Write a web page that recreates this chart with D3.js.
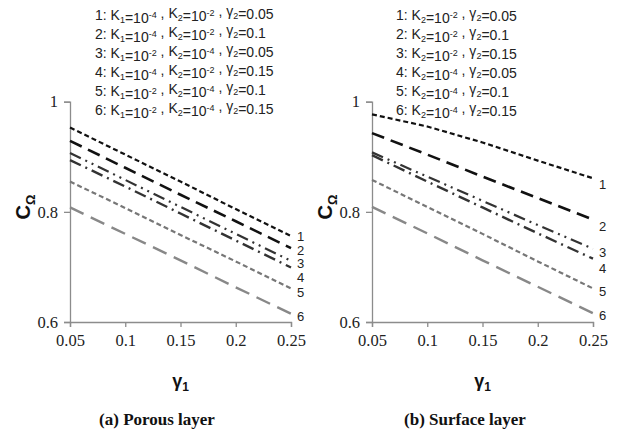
<!DOCTYPE html>
<html><head><meta charset="utf-8">
<script src="https://cdn.jsdelivr.net/npm/d3@7"></script>
<style>body{margin:0;background:#fff}</style>
</head><body>
<svg id="c" width="619" height="432"></svg>
<script>
const xTicks = [0.05, 0.1, 0.15, 0.2, 0.25];
const yTicks = [0.6, 0.8, 1];
const gamma1 = [0.05, 0.1, 0.15, 0.2, 0.25];
// Porous layer series (C_Omega vs gamma1)
const porous1 = [0.953, 0.904, 0.855, 0.805, 0.756];
const porous2 = [0.929, 0.880, 0.831, 0.783, 0.734];
const porous3 = [0.907, 0.858, 0.809, 0.760, 0.711];
const porous4 = [0.894, 0.846, 0.797, 0.748, 0.699];
const porous5 = [0.855, 0.807, 0.758, 0.710, 0.661];
const porous6 = [0.808, 0.760, 0.712, 0.663, 0.615];
// Surface layer series
const surface1 = [0.977, 0.955, 0.926, 0.893, 0.861];
const surface2 = [0.943, 0.904, 0.864, 0.825, 0.786];
const surface3 = [0.908, 0.864, 0.820, 0.776, 0.733];
const surface4 = [0.903, 0.855, 0.808, 0.761, 0.715];
const surface5 = [0.858, 0.809, 0.760, 0.710, 0.661];
const surface6 = [0.809, 0.761, 0.712, 0.664, 0.616];
// Legend parameters
const porousK1 = ["-4", "-4", "-2", "-4", "-2", "-2"];
const porousK2 = ["-2", "-2", "-4", "-2", "-4", "-4"];
const porousG2 = ["0.05", "0.1", "0.05", "0.15", "0.1", "0.15"];
const surfaceK2 = ["-2", "-2", "-2", "-4", "-4", "-4"];
const surfaceG2 = ["0.05", "0.1", "0.15", "0.05", "0.1", "0.15"];
const seriesLabels = ["1", "2", "3", "4", "5", "6"];
const panelTitles = ["(a) Porous layer", "(b) Surface layer"];

const styles = [
  {stroke: "#111", w: 2.2, dash: "5,3"},
  {stroke: "#111", w: 2.6, dash: "13,7"},
  {stroke: "#333", w: 2.2, dash: "12,5,2,5,2,5"},
  {stroke: "#333", w: 2.4, dash: "12,5,2,5"},
  {stroke: "#777", w: 2.2, dash: "5,3"},
  {stroke: "#888", w: 2.4, dash: "15,8"}
];

const svg = d3.select("#c");
const y = d3.scaleLinear().domain([0.6, 1]).range([322, 101.7]);

const panels = [
  {x0: 70, x1: 291, series: [porous1, porous2, porous3, porous4, porous5, porous6],
   labelY: [236.5, 250, 263.5, 277.5, 292, 316], labelX: 297, legendX: 95, capX: 157},
  {x0: 372, x1: 593, series: [surface1, surface2, surface3, surface4, surface5, surface6],
   labelY: [184, 226, 252.5, 268.5, 291.5, 315.5], labelX: 599, legendX: 396, capX: 465}
];

const legendFont = "'Liberation Sans', Arial, sans-serif";
const serif = "'Liberation Serif', 'Times New Roman', serif";

panels.forEach((p, pi) => {
  const x = d3.scaleLinear().domain([0.05, 0.25]).range([p.x0, p.x1]);
  const g = svg.append("g");
  // axes
  const ya = g.append("g").attr("transform", `translate(${p.x0},0)`)
    .call(d3.axisLeft(y).tickValues(yTicks).tickSize(6).tickFormat(d3.format("")));
  const xa = g.append("g").attr("transform", `translate(0,322)`)
    .call(d3.axisBottom(x).tickValues(xTicks).tickSize(5).tickFormat(d3.format("")));
  [ya, xa].forEach(a => {
    a.attr("font-family", serif).attr("font-size", 16.5);
    a.select(".domain").attr("stroke", "#8c8c8c").attr("stroke-width", 1.3);
    a.selectAll(".tick line").attr("stroke", "#8c8c8c").attr("stroke-width", 1.3);
    a.selectAll("text").attr("font-family", serif)
      .attr("font-size", 16.5).attr("fill", "#222");
  });
  ya.selectAll("text").attr("x", -12);
  xa.selectAll("text").attr("y", 12);

  // lines
  const line = d3.line().x((d, i) => x(gamma1[i])).y(d => y(d));
  p.series.forEach((s, i) => {
    g.append("path").datum(s).attr("d", line).attr("fill", "none")
      .attr("stroke", styles[i].stroke).attr("stroke-width", styles[i].w)
      .attr("stroke-dasharray", styles[i].dash);
    g.append("text").attr("x", p.labelX).attr("y", p.labelY[i]).attr("dy", "0.35em")
      .attr("font-family", legendFont).attr("font-size", 13).attr("fill", "#222")
      .text(seriesLabels[i]);
  });

  // y title
  const yt = g.append("text")
    .attr("transform", `translate(${p.x0 - 40},207) rotate(-90)`)
    .attr("text-anchor", "middle").attr("font-family", "Arial, 'Liberation Sans', sans-serif")
    .attr("font-weight", "bold").attr("font-size", 20).attr("fill", "#111");
  yt.append("tspan").text("C");
  yt.append("tspan").attr("font-size", 13).attr("dy", 5).text("Ω");

  // x title
  const xt = g.append("text").attr("x", (p.x0 + p.x1) / 2).attr("y", 387)
    .attr("text-anchor", "middle").attr("font-family", "Arial, 'Liberation Sans', sans-serif")
    .attr("font-weight", "bold").attr("font-size", 18).attr("fill", "#111");
  xt.append("tspan").text("γ");
  xt.append("tspan").attr("font-size", 12).attr("dy", 4).text("1");

  // caption
  g.append("text").attr("x", p.capX).attr("y", 425)
    .attr("text-anchor", "middle").attr("font-family", serif)
    .attr("font-weight", "bold").attr("font-size", 17).attr("fill", "#111")
    .text(panelTitles[pi]);

  // legend
  for (let i = 0; i < 6; i++) {
    const t = g.append("text").attr("x", p.legendX).attr("y", 20 + i * 19)
      .attr("font-family", legendFont).attr("font-size", 14).attr("fill", "#222");
    const sub = (s) => { t.append("tspan").attr("font-size", 9).attr("dy", 3).text(s); t.append("tspan").attr("dy", -3).text(""); };
    const sup = (s) => { t.append("tspan").attr("font-size", 9).attr("dy", -5).text(s); t.append("tspan").attr("dy", 5).text(""); };
    t.append("tspan").text(seriesLabels[i] + ": ");
    if (pi === 0) {
      t.append("tspan").text("K"); sub("1"); t.append("tspan").text("=10"); sup(porousK1[i]);
      t.append("tspan").text(" , ");
      t.append("tspan").text("K"); sub("2"); t.append("tspan").text("=10"); sup(porousK2[i]);
      t.append("tspan").text(" , γ"); sub("2"); t.append("tspan").text("=" + porousG2[i]);
    } else {
      t.append("tspan").text("K"); sub("2"); t.append("tspan").text("=10"); sup(surfaceK2[i]);
      t.append("tspan").text(" , γ"); sub("2"); t.append("tspan").text("=" + surfaceG2[i]);
    }
  }
});
</script>
</body></html>
